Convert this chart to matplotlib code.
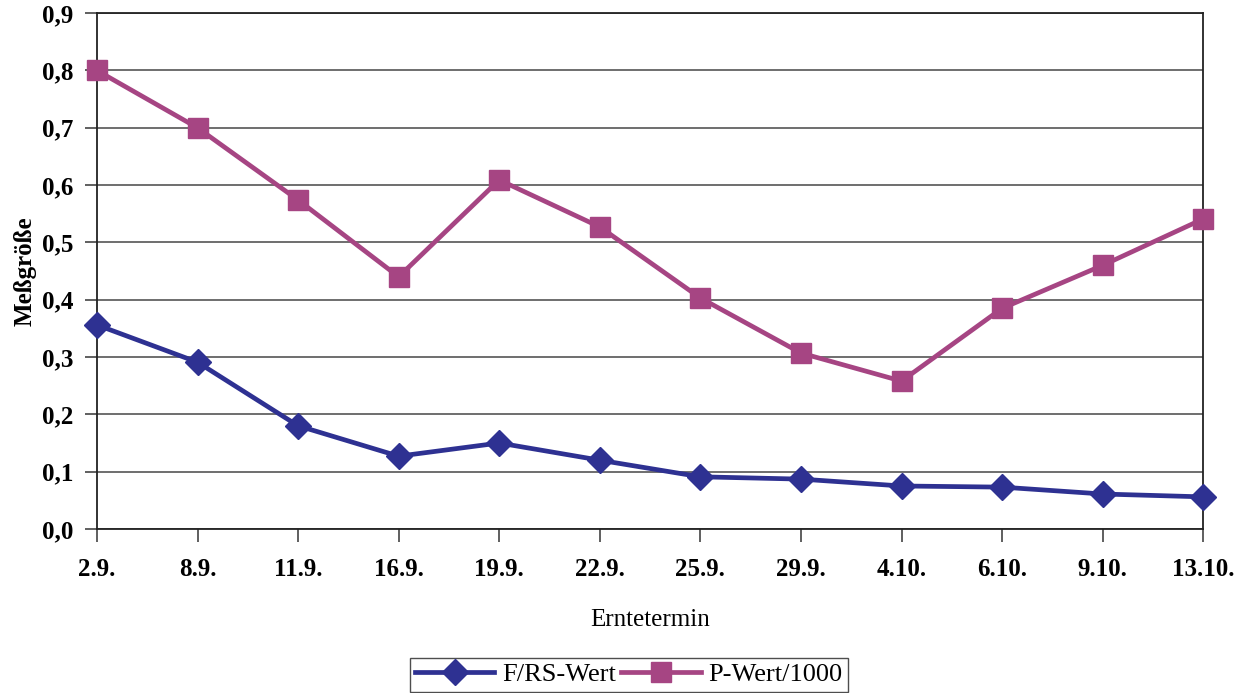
import matplotlib.pyplot as plt
from matplotlib.ticker import MultipleLocator, FuncFormatter

termine = ["2.9.", "8.9.", "11.9.", "16.9.", "19.9.", "22.9.",
           "25.9.", "29.9.", "4.10.", "6.10.", "9.10.", "13.10."]
frs_wert = [0.356, 0.291, 0.180, 0.127, 0.150, 0.120,
            0.091, 0.087, 0.075, 0.073, 0.061, 0.056]
p_wert = [0.800, 0.700, 0.574, 0.440, 0.609, 0.527,
          0.403, 0.307, 0.258, 0.385, 0.460, 0.541]

BLUE = "#2e3192"
PURPLE = "#a64583"

plt.rcParams["font.family"] = ["Liberation Serif", "DejaVu Serif"]

fig = plt.figure(figsize=(12.43, 6.93), dpi=100)
ax = fig.add_axes([0.078, 0.2367, 0.890, 0.7443])

x = range(len(termine))
ax.plot(x, frs_wert, color=BLUE, lw=3.4, marker="D", ms=13,
        label="F/RS-Wert", zorder=3, clip_on=False)
ax.plot(x, p_wert, color=PURPLE, lw=3.4, marker="s", ms=15,
        label="P-Wert/1000", zorder=3, clip_on=False)

ax.set_xlim(0, len(termine) - 1)
ax.set_ylim(0, 0.9)
ax.yaxis.set_major_locator(MultipleLocator(0.1))
ax.yaxis.set_major_formatter(FuncFormatter(lambda v, p: f"{v:.1f}".replace(".", ",")))
ax.set_xticks(list(x))
ax.set_xticklabels(termine)
ax.grid(axis="y", color="#555555", lw=1.2)
ax.set_axisbelow(True)

for s in ax.spines.values():
    s.set_color("#222222")
    s.set_linewidth(1.3)

ax.tick_params(axis="both", direction="out", length=9, width=1.2,
               color="#444444", labelsize=18, pad=8)
for lbl in ax.get_xticklabels() + ax.get_yticklabels():
    lbl.set_fontweight("bold")
ax.tick_params(axis="x", pad=12)

ax.set_xlabel("Erntetermin", fontsize=18, labelpad=20)
ax.set_ylabel("Meßgröße", fontsize=18, fontweight="bold", labelpad=4)

fig.legend(loc="lower center", bbox_to_anchor=(0.506, 0.0), ncol=2,
           fontsize=19, frameon=True, fancybox=False, edgecolor="#222222",
           handlelength=3.0, columnspacing=0.2, handletextpad=0.3,
           borderpad=0.2, borderaxespad=0.05)

fig.savefig("out.png", dpi=100)
